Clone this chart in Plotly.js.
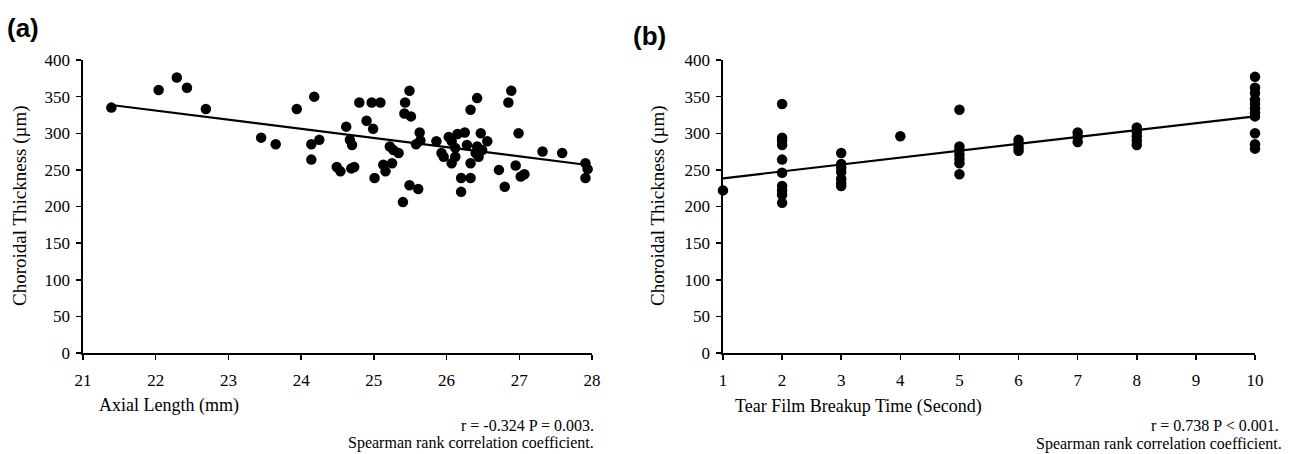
<!DOCTYPE html>
<html>
<head>
<meta charset="utf-8">
<script src="https://cdn.plot.ly/plotly-3.0.1.min.js"></script>
<style>html,body{margin:0;padding:0;background:#fff;}#chart{width:1298px;height:454px;}</style>
</head>
<body>
<div id="chart"></div>
<script>
// Panel (a): Axial Length vs Choroidal Thickness
const axialLength = [21.39, 22.04, 22.29, 22.43, 22.69, 23.45, 23.65, 23.94, 24.18, 24.14, 24.25, 24.14, 24.49, 24.54, 24.69, 24.73, 24.62, 24.67, 24.70, 24.80, 24.97, 25.09, 24.90, 24.99, 25.01, 25.13, 25.16, 25.25, 25.22, 25.27, 25.34, 25.40, 25.43, 25.49, 25.42, 25.51, 25.49, 25.61, 25.58, 25.63, 25.64, 25.86, 25.93, 25.96, 26.03, 26.07, 26.07, 26.12, 26.15, 26.25, 26.12, 26.20, 26.33, 26.20, 26.28, 26.33, 26.33, 26.42, 26.40, 26.42, 26.47, 26.44, 26.49, 26.56, 26.72, 26.80, 26.85, 26.89, 26.99, 26.95, 27.02, 27.07, 27.32, 27.59, 27.91, 27.94, 27.91];
const thicknessA = [335, 359, 376, 362, 333, 294, 285, 333, 350, 285, 291, 264, 254, 248, 252, 254, 309, 291, 284, 342, 342, 342, 317, 306, 239, 257, 248, 259, 282, 277, 273, 206, 342, 358, 327, 323, 229, 224, 285, 301, 290, 289, 273, 268, 295, 289, 259, 268, 299, 301, 280, 239, 239, 220, 284, 259, 332, 348, 273, 282, 300, 268, 277, 289, 250, 227, 342, 358, 300, 256, 241, 244, 275, 273, 259, 251, 239];
const trendAX = [21.39, 27.94];
const trendAY = [338.6, 256.7];

// Panel (b): Tear Film Breakup Time vs Choroidal Thickness
const breakupTime = [1,
  2, 2, 2, 2, 2, 2, 2, 2, 2, 2,
  3, 3, 3, 3, 3, 3, 3,
  4,
  5, 5, 5, 5, 5, 5, 5,
  6, 6, 6, 6,
  7, 7, 7,
  8, 8, 8, 8, 8,
  10, 10, 10, 10, 10, 10, 10, 10, 10, 10, 10];
const thicknessB = [222,
  340, 294, 290, 284, 264, 246, 228, 222, 216, 205,
  273, 258, 253, 247, 238, 232, 228,
  296,
  332, 282, 277, 271, 265, 259, 244,
  291, 286, 281, 276,
  301, 295, 288,
  308, 302, 296, 290, 284,
  377, 362, 355, 346, 340, 334, 328, 323, 300, 285, 279];
const trendBX = [1, 10];
const trendBY = [238.5, 323];

const xTicksA = [21, 22, 23, 24, 25, 26, 27, 28];
const xTicksB = [1, 2, 3, 4, 5, 6, 7, 8, 9, 10];
const yTicks = [0, 50, 100, 150, 200, 250, 300, 350, 400];

const serif = "Liberation Serif";
const sans = "Liberation Sans";
const W = 1298, H = 454;
const px = v => v / W;
const py = v => 1 - v / H;

const marker = {color: '#000', size: 10.5};
const traces = [
  {x: axialLength, y: thicknessA, type: 'scatter', mode: 'markers', marker: marker, xaxis: 'x', yaxis: 'y', cliponaxis: false},
  {x: trendAX, y: trendAY, type: 'scatter', mode: 'lines', line: {color: '#000', width: 2.2}, xaxis: 'x', yaxis: 'y', cliponaxis: false},
  {x: breakupTime, y: thicknessB, type: 'scatter', mode: 'markers', marker: marker, xaxis: 'x2', yaxis: 'y2', cliponaxis: false},
  {x: trendBX, y: trendBY, type: 'scatter', mode: 'lines', line: {color: '#000', width: 2.2}, xaxis: 'x2', yaxis: 'y2', cliponaxis: false}
];

function ax(extra) {
  return Object.assign({
    showline: true, linecolor: '#000', linewidth: 1.6, mirror: false,
    ticks: 'outside', ticklen: 5, tickwidth: 1.5, tickcolor: '#000',
    showgrid: false, zeroline: false, fixedrange: true,
    tickfont: {family: serif, size: 17, color: '#000'}
  }, extra);
}

const yDomain = [py(353), py(60)];

function note(text, x, y, xanchor, size, family, angle) {
  return {text: text, xref: 'paper', yref: 'paper', x: px(x), y: py(y), xanchor: xanchor, yanchor: 'middle',
          showarrow: false, textangle: angle || 0, font: {family: family || serif, size: size, color: '#000'}};
}

const layout = {
  width: W, height: H,
  font: {family: serif, color: '#000'},
  margin: {l: 0, r: 0, t: 0, b: 0, pad: 0},
  paper_bgcolor: '#fff', plot_bgcolor: 'rgba(0,0,0,0)',
  showlegend: false,
  xaxis: ax({domain: [px(83), px(592)], range: [21, 28], tickvals: xTicksA, anchor: 'y', ticklabelstandoff: 6}),
  yaxis: ax({domain: yDomain, range: [0, 400], tickvals: yTicks, anchor: 'x', ticklabelstandoff: 3}),
  xaxis2: ax({domain: [px(723), px(1255)], range: [1, 10], tickvals: xTicksB, anchor: 'y2', ticklabelstandoff: 6}),
  yaxis2: ax({domain: yDomain, range: [0, 400], tickvals: yTicks, anchor: 'x2', ticklabelstandoff: 3}),
  annotations: [
    note('<b>(a)</b>', 5, 28, 'left', 26, sans),
    note('<b>(b)</b>', 631, 36, 'left', 26, sans),
    note('Choroidal Thickness (µm)', 20, 206, 'center', 19, serif, -90),
    note('Choroidal Thickness (µm)', 658, 206, 'center', 19, serif, -90),
    note('Axial Length (mm)', 97, 405, 'left', 18),
    note('Tear Film Breakup Time (Second)', 733, 406, 'left', 18),
    note('r = -0.324 P = 0.003.', 596, 425, 'right', 16),
    note('Spearman rank correlation coefficient.', 596, 443, 'right', 16),
    note('r = 0.738 P < 0.001.', 1281, 425, 'right', 16),
    note('Spearman rank correlation coefficient.', 1284, 444, 'right', 16)
  ]
};

Plotly.newPlot('chart', traces, layout, {displayModeBar: false, staticPlot: true});
</script>
</body>
</html>
